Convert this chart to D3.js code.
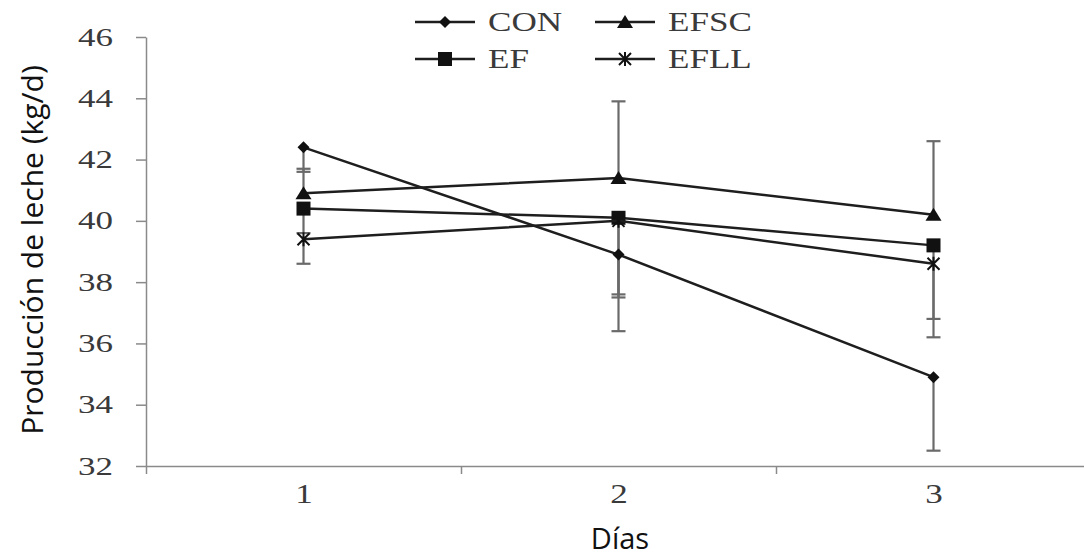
<!DOCTYPE html>
<html>
<head>
<meta charset="utf-8">
<script src="https://cdn.jsdelivr.net/npm/d3@7"></script>
<style>
  body { margin: 0; background: #fff; }
  svg { display: block; }
</style>
</head>
<body>
<div id="chart"></div>
<script>
// chart data
var dias = [1, 2, 3];
var yTicks = [32, 34, 36, 38, 40, 42, 44, 46];
var con  = [42.4, 38.9, 34.9];
var efsc = [40.9, 41.4, 40.2];
var ef   = [40.4, 40.1, 39.2];
var efll = [39.4, 40.0, 38.6];
// error bar size per day, and which way each series bar goes
var errDia = [0.8, 2.5, 2.4];
var series = [
  { name: "CON",  values: con,  marker: "diamond",  dir: -1 },
  { name: "EFSC", values: efsc, marker: "triangle", dir: 1 },
  { name: "EF",   values: ef,   marker: "square",   dir: -1 },
  { name: "EFLL", values: efll, marker: "star",     dir: -1 }
];

(function(){
  "use strict";
  var width = 1084, height = 559;
  var svg = d3.select("#chart").append("svg")
      .attr("width", width)
      .attr("height", height);

  var x = d3.scaleLinear().domain([0.5, 3.5]).range([146, 1091]);
  var y = d3.scaleLinear().domain([32, 46]).range([466, 37]);

  var axisColor = "#8a8a8a";
  var serif = "'Liberation Serif', 'Times New Roman', serif";
  var sans = "'Open Sans', sans-serif";

  // y axis
  var yAxis = svg.append("g")
      .attr("transform", "translate(146,0)")
      .call(d3.axisLeft(y).tickValues(yTicks).tickSize(10).tickSizeOuter(0));
  yAxis.select(".domain").attr("stroke", axisColor).attr("stroke-width", 1.5);
  yAxis.selectAll(".tick line").attr("stroke", axisColor).attr("stroke-width", 1.5);
  // the serif labels in the original look stretched sideways
  yAxis.selectAll(".tick text")
      .attr("x", 0)
      .attr("transform", "translate(-33,0) scale(1.4,1)")
      .style("font-family", serif).style("font-size", "25px").attr("fill", "#3a3a3a");

  // x axis: ticks between categories, labels at centres
  var xAxis = svg.append("g")
      .attr("transform", "translate(0,466)")
      .call(d3.axisBottom(x).tickValues([0.5, 1.5, 2.5, 3.5]).tickFormat("").tickSize(8).tickSizeOuter(0));
  xAxis.select(".domain").attr("stroke", axisColor).attr("stroke-width", 1.5);
  xAxis.selectAll(".tick line").attr("stroke", axisColor).attr("stroke-width", 1.5);

  var xLab = svg.append("g")
      .attr("transform", "translate(0,466)")
      .call(d3.axisBottom(x).tickValues(dias).tickFormat(d3.format("d")).tickSize(0).tickPadding(18));
  xLab.select(".domain").remove();
  xLab.selectAll(".tick text")
      .attr("transform", "scale(1.3,1)")
      .style("font-family", serif).style("font-size", "27px").attr("fill", "#3a3a3a");

  // axis titles
  svg.append("text")
      .attr("transform", "translate(43,250) rotate(-90)")
      .attr("text-anchor", "middle")
      .style("font-family", sans)
      .style("font-size", "30px")
      .attr("fill", "#111")
      .text("Producción de leche (kg/d)");
  svg.append("text")
      .attr("x", 620).attr("y", 549)
      .attr("text-anchor", "middle")
      .style("font-family", sans)
      .style("font-size", "29px")
      .attr("fill", "#111")
      .text("Días");

  // error bars
  var bars = svg.append("g");
  series.forEach(function(s){
    s.values.forEach(function(v, i){
      var end = v + s.dir * errDia[i];
      bars.append("line")
          .attr("x1", x(dias[i])).attr("x2", x(dias[i]))
          .attr("y1", y(v)).attr("y2", y(end))
          .attr("stroke", "#6a6a6a").attr("stroke-width", 2.2);
      bars.append("line")
          .attr("x1", x(dias[i]) - 7).attr("x2", x(dias[i]) + 7)
          .attr("y1", y(end)).attr("y2", y(end))
          .attr("stroke", "#6a6a6a").attr("stroke-width", 2.2);
    });
  });

  var line = d3.line()
      .x(function(d, i){ return x(dias[i]); })
      .y(function(d){ return y(d); });

  function drawMarker(g, type, cx, cy) {
    if (type === "diamond") {
      g.append("path").attr("d", "M" + cx + "," + (cy - 6) + "L" + (cx + 6) + "," + cy + "L" + cx + "," + (cy + 6) + "L" + (cx - 6) + "," + cy + "Z")
          .attr("fill", "#111");
    } else if (type === "triangle") {
      g.append("path").attr("d", "M" + cx + "," + (cy - 7) + "L" + (cx + 8) + "," + (cy + 6) + "L" + (cx - 8) + "," + (cy + 6) + "Z")
          .attr("fill", "#111");
    } else if (type === "square") {
      g.append("rect").attr("x", cx - 7).attr("y", cy - 7).attr("width", 14).attr("height", 14)
          .attr("fill", "#111");
    } else {
      g.append("path")
          .attr("d", "M" + (cx - 6) + "," + (cy - 6) + "L" + (cx + 6) + "," + (cy + 6) +
                     "M" + (cx + 6) + "," + (cy - 6) + "L" + (cx - 6) + "," + (cy + 6) +
                     "M" + cx + "," + (cy - 7) + "L" + cx + "," + (cy + 7))
          .attr("stroke", "#111").attr("stroke-width", 2).attr("fill", "none");
    }
  }

  var lines = svg.append("g");
  series.forEach(function(s){
    lines.append("path")
        .attr("d", line(s.values))
        .attr("fill", "none")
        .attr("stroke", "#1e1e1e")
        .attr("stroke-width", 2.5);
    s.values.forEach(function(v, i){
      drawMarker(lines, s.marker, x(dias[i]), y(v));
    });
  });

  // legend, two columns
  var legend = svg.append("g");
  series.forEach(function(s, i){
    var col = i % 2, row = Math.floor(i / 2);
    var lx = 415 + col * 180, ly = 22 + row * 37;
    legend.append("line")
        .attr("x1", lx).attr("x2", lx + 60)
        .attr("y1", ly).attr("y2", ly)
        .attr("stroke", "#1e1e1e").attr("stroke-width", 2.5);
    drawMarker(legend, s.marker, lx + 30, ly);
    legend.append("text")
        .attr("transform", "translate(" + (lx + 73) + "," + (ly + 9) + ") scale(1.3,1)")
        .style("font-family", serif)
        .style("font-size", "27px")
        .attr("fill", "#3a3a3a")
        .text(s.name);
  });
})();
</script>
</body>
</html>
